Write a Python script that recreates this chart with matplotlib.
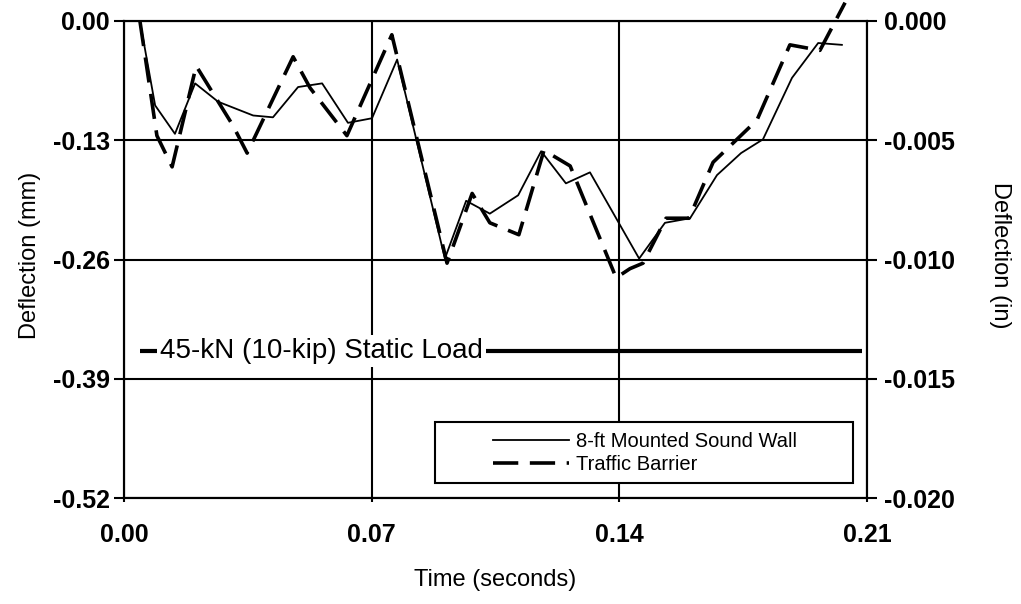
import matplotlib
matplotlib.use("Agg")
import matplotlib.pyplot as plt
from matplotlib.patches import Rectangle

plt.rcParams['font.family'] = ['Liberation Sans', 'DejaVu Sans']

# ---------------------------- data ----------------------------
t_wall = [0.0045, 0.0088, 0.0144, 0.0201, 0.0266, 0.0365, 0.0421, 0.0492, 0.0560, 0.0633,
          0.0701, 0.0772, 0.0907, 0.0967, 0.1034, 0.1114, 0.1179, 0.1249, 0.1317, 0.1456,
          0.1529, 0.1600, 0.1676, 0.1744, 0.1806, 0.1888, 0.1962, 0.2029]
d_wall = [0.000, -0.092, -0.123, -0.068, -0.088, -0.103, -0.105, -0.072, -0.068, -0.111,
          -0.106, -0.042, -0.259, -0.196, -0.210, -0.190, -0.142, -0.177, -0.165, -0.259,
          -0.220, -0.215, -0.168, -0.144, -0.129, -0.062, -0.024, -0.026]

t_barrier = [0.0045, 0.0093, 0.0136, 0.0204, 0.0308, 0.0348, 0.0478, 0.0526, 0.0630, 0.0757,
             0.0913, 0.0984, 0.1034, 0.1116, 0.1187, 0.1261, 0.1391, 0.1430, 0.1467, 0.1532,
             0.1597, 0.1665, 0.1789, 0.1882, 0.1967, 0.2038]
d_barrier = [0.000, -0.125, -0.159, -0.049, -0.114, -0.144, -0.039, -0.073, -0.125, -0.015,
             -0.264, -0.188, -0.220, -0.233, -0.141, -0.158, -0.280, -0.270, -0.264, -0.215,
             -0.215, -0.154, -0.108, -0.026, -0.032, 0.020]

static_t = [0.0045, 0.2086]
static_d = [-0.36, -0.36]

xticks = [0.00, 0.07, 0.14, 0.21]
xlabels = ["0.00", "0.07", "0.14", "0.21"]
yticks_mm = [0.00, -0.13, -0.26, -0.39, -0.52]
ylabels_mm = ["0.00", "-0.13", "-0.26", "-0.39", "-0.52"]
yticks_in = [0.000, -0.005, -0.010, -0.015, -0.020]
ylabels_in = ["0.000", "-0.005", "-0.010", "-0.015", "-0.020"]

# ---------------------------- figure ----------------------------
fig = plt.figure(figsize=(10.21, 6.04), dpi=100)
ax = fig.add_axes([124/1021, 1 - 498/604, 743/1021, 477/604])

ax.set_xlim(0, 0.21)
ax.set_ylim(-0.52, 0)
ax.set_xticks(xticks)
ax.set_xticklabels(xlabels, fontweight='bold')
ax.set_yticks(yticks_mm)
ax.set_yticklabels(ylabels_mm, fontweight='bold')
ax.grid(True, color='black', linewidth=1.5)
ax.set_axisbelow(True)
for s in ax.spines.values():
    s.set_linewidth(1.5)
ax.tick_params(axis='y', direction='out', length=7, width=1.5, labelsize=18, pad=3)
ax.tick_params(axis='x', direction='out', length=3, width=1.5, labelsize=18, pad=15)

wall, = ax.plot(t_wall, d_wall, color='black', lw=1.3, zorder=3)
barrier, = ax.plot(t_barrier, d_barrier, color='black', lw=2.6,
                   linestyle=(0, (7, 3.2)), zorder=3, clip_on=False)

# static load reference line with label over it
ax.plot(static_t, static_d, color='black', lw=3, solid_capstyle='butt', zorder=2)
ax.text(0.0102, -0.36, "45-kN (10-kip) Static Load", fontsize=20, va='center', ha='left',
        zorder=4, bbox=dict(facecolor='white', edgecolor='none', pad=2))

# legend box drawn by hand, legend entries without frame
ax.add_patch(Rectangle((0.4186, 0.031), 0.5626, 0.128, transform=ax.transAxes,
                       facecolor='white', edgecolor='black', lw=1.5, zorder=5))
leg = ax.legend([wall, barrier], ["8-ft Mounted Sound Wall", "Traffic Barrier"],
                loc='center left', bbox_to_anchor=(0.483, 0.095), frameon=False,
                fontsize=14.5, borderpad=0, handlelength=3.8, handletextpad=0.3,
                labelspacing=0.2)
leg.set_zorder(6)

ax2 = ax.twinx()
ax2.set_ylim(-0.020, 0)
ax2.set_yticks(yticks_in)
ax2.set_yticklabels(ylabels_in, fontweight='bold')
ax2.tick_params(axis='y', direction='out', length=7, width=1.5, labelsize=18, pad=5)
for s in ax2.spines.values():
    s.set_linewidth(1.5)

fig.text(30/1021, 1 - 255/604, "Deflection (mm)", rotation=90, ha='center', va='center', fontsize=17)
fig.text(1000/1021, 1 - 255/604, "Deflection (in)", rotation=270, ha='center', va='center', fontsize=17)
fig.text(495/1021, 1 - 580/604, "Time (seconds)", ha='center', va='center', fontsize=17)

fig.savefig("out.png", dpi=100)
